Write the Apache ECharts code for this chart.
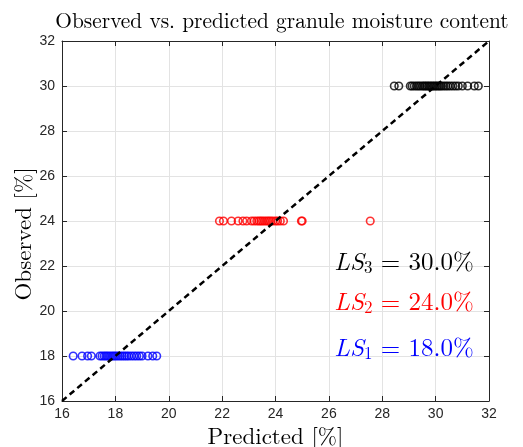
<!DOCTYPE html>
<html>
<head>
<meta charset="utf-8">
<script src="https://cdn.jsdelivr.net/npm/echarts@6/dist/echarts.min.js"></script>
<style>
  html, body { margin: 0; padding: 0; background: #fff; }
  #chart { width: 523px; height: 447px; }
</style>
</head>
<body>
<div id="chart"></div>
<script>
// Tick values shared by both axes
var ticks = [16, 18, 20, 22, 24, 26, 28, 30, 32];

// Predicted moisture for each batch, plotted against its observed level
var observedLS1 = 18;
var predictedLS1 = [16.42, 16.75, 16.96, 17.1, 17.42, 17.5, 17.58, 17.65, 17.72, 17.8, 17.88, 17.95,
  18.02, 18.1, 18.18, 18.26, 18.34, 18.42, 18.5, 18.6, 18.7, 18.8, 18.9, 19.0, 19.22, 19.4, 19.55];

var observedLS2 = 24;
var predictedLS2 = [21.9, 22.05, 22.35, 22.6, 22.78, 22.92, 23.1, 23.2, 23.3, 23.38, 23.45, 23.52,
  23.6, 23.68, 23.75, 23.82, 23.9, 24.0, 24.08, 24.18, 24.3, 24.97, 25.0, 27.55];

var observedLS3 = 30;
var predictedLS3 = [28.45, 28.62, 29.05, 29.12, 29.2, 29.28, 29.35, 29.42, 29.5, 29.56, 29.62, 29.68,
  29.74, 29.8, 29.86, 29.92, 29.98, 30.04, 30.1, 30.16, 30.22, 30.3, 30.38, 30.46, 30.55, 30.65,
  30.75, 30.85, 31.0, 31.2, 31.45, 31.6];

// Identity line
var identityLine = [[16, 16], [32, 32]];

var serif = '"Latin Modern Roman", "CMU Serif", "DejaVu Serif", serif';
var sans = '"Liberation Sans", Arial, sans-serif';

function pairs(xs, y) {
  return xs.map(function (x) { return [x, y]; });
}

function circles(name, xs, y, color) {
  return {
    name: name,
    type: 'scatter',
    data: pairs(xs, y),
    symbol: 'circle',
    symbolSize: 7.5,
    itemStyle: { color: 'rgba(0,0,0,0)', borderColor: color, borderWidth: 1.6 },
    silent: true,
    z: 3
  };
}

var axisCommon = {
  min: ticks[0], max: ticks[ticks.length - 1], interval: ticks[1] - ticks[0],
  axisLine: { show: true, onZero: false, lineStyle: { color: '#262626', width: 1 } },
  axisTick: { show: true, inside: true, length: 5, lineStyle: { color: '#262626', width: 1 } },
  splitLine: { show: true, lineStyle: { color: '#e3e3e3', width: 1 } },
  axisLabel: { color: '#262626', fontFamily: sans, fontSize: 14 }
};

function axis(extra) {
  return Object.assign({}, JSON.parse(JSON.stringify(axisCommon)), extra);
}

var chart = echarts.init(document.getElementById('chart'), null, { renderer: 'canvas' });

chart.setOption({
  animation: false,
  backgroundColor: '#fff',
  title: {
    text: 'Observed vs. predicted granule moisture content',
    left: 277, top: 6, textAlign: 'center',
    textStyle: { fontFamily: serif, fontWeight: 'normal', fontSize: 21.4, color: '#000' }
  },
  grid: { left: 62, right: 34, top: 41, bottom: 46, containLabel: false, outerBoundsMode: 'none' },
  xAxis: [
    axis({
      type: 'value', position: 'bottom',
      name: 'Predicted [%]', nameLocation: 'middle', nameGap: 24,
      nameTextStyle: { fontFamily: serif, fontSize: 23, color: '#000' },
      axisLabel: { color: '#262626', fontFamily: sans, fontSize: 14, margin: 6 }
    }),
    axis({
      type: 'value', position: 'top',
      axisLabel: { show: false }, splitLine: { show: false }
    })
  ],
  yAxis: [
    axis({
      type: 'value', position: 'left',
      axisLabel: { color: '#262626', fontFamily: sans, fontSize: 14, margin: 7 }
    }),
    axis({
      type: 'value', position: 'right',
      axisLabel: { show: false }, splitLine: { show: false }
    })
  ],
  series: [
    circles('LS1', predictedLS1, observedLS1, '#0000ff'),
    circles('LS2', predictedLS2, observedLS2, '#ff0000'),
    circles('LS3', predictedLS3, observedLS3, '#000000'),
    {
      name: 'identity',
      type: 'line',
      data: identityLine,
      symbol: 'none',
      silent: true,
      lineStyle: { color: '#000', width: 2.5, type: [6, 4] },
      z: 4
    }
  ]
});

// Batch level annotations, anchored in data coordinates
var labels = [
  { lvl: observedLS3, y: 22.2, color: '#000000', sub: '3' },
  { lvl: observedLS2, y: 20.4, color: '#ff0000', sub: '2' },
  { lvl: observedLS1, y: 18.35, color: '#0000ff', sub: '1' }
];
var graphics = labels.map(function (l) {
  var p = chart.convertToPixel({ gridIndex: 0 }, [26.2, l.y]);
  return {
    type: 'text',
    left: p[0], top: p[1] - 12,
    silent: true,
    style: {
      text: '{i|LS}{s|' + l.sub + '}{n| = ' + l.lvl.toFixed(1) + '%}',
      rich: {
        i: { fontFamily: serif, fontStyle: 'italic', fontSize: 25, fill: l.color },
        s: { fontFamily: serif, fontSize: 17, fill: l.color, padding: [11, 0, 0, 0] },
        n: { fontFamily: serif, fontSize: 25, fill: l.color }
      }
    }
  };
});

// Vertical axis title
graphics.push({
  type: 'text',
  x: 24, y: 234,
  rotation: Math.PI / 2,
  silent: true,
  style: {
    text: 'Observed [%]',
    font: '23px ' + serif,
    fill: '#000',
    align: 'center',
    verticalAlign: 'middle'
  }
});

chart.setOption({ graphic: graphics });
</script>
</body>
</html>
